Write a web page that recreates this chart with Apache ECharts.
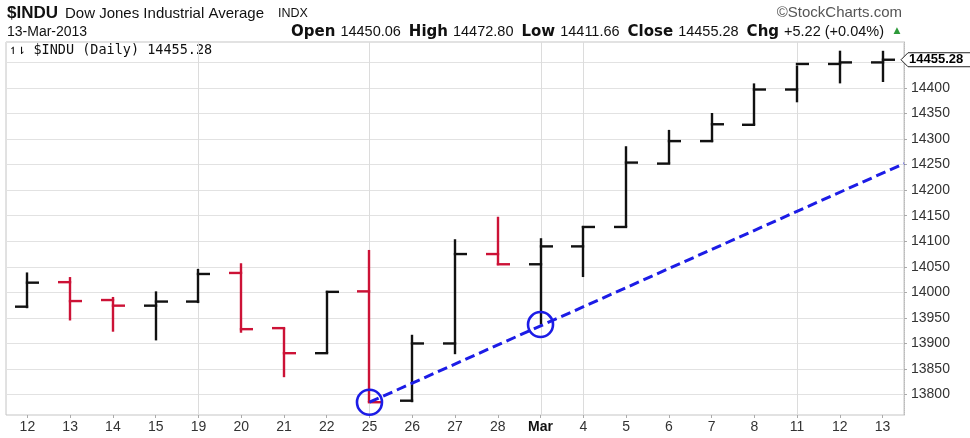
<!DOCTYPE html>
<html><head><meta charset="utf-8">
<script src="https://cdn.jsdelivr.net/npm/echarts@6/dist/echarts.min.js"></script>
<style>html,body{margin:0;padding:0;background:#fff}#c{width:970px;height:438px}</style>
</head><body><div id="c"></div>
<script>
// ---- data ----
const categories = ['12','13','14','15','19','20','21','22','25','26','27','28','Mar','4','5','6','7','8','11','12','13'];
const opens  = [13972,14020,13985,13974,13982,14038,13930,13881,14002,13788,13900,14075,14055,14090,14128,14252,14296,14328,14397,14447,14450.06];
const highs  = [14039,14030,13991,14002,14046,14057,13930,14003,14083,13917,14104,14148,14106,14130,14286,14318,14351,14409,14444,14473,14472.80];
const lows   = [13969,13945,13923,13906,13979,13921,13834,13881,13785,13785,13879,14053,13937,14030,14128,14252,14294,14328,14372,14409,14411.66];
const closes = [14019,13983,13974,13982,14036,13928,13881,14001,13785,13900,14075,14055,14090,14128,14254,14296,14329,14397,14447,14450.06,14455.28];
const priorClose = 13971;            // close before the first bar
const weekStartIdx = [4, 8, 12, 13, 18];   // 19, 25, Mar, 4, 11
const trendPoints = [[8, 13785], [20.5, 14252]];
const circledPoints = [[8, 13785], [12, 13937]];
const lastDate = '13-Mar-2013';

const n = categories.length;
const lastO = opens[n-1], lastH = highs[n-1], lastL = lows[n-1], lastC = closes[n-1];
const chg = lastC - closes[n-2];
const chgPct = chg / closes[n-2] * 100;

const ohlcData = categories.map((c, i) => {
  const prev = i === 0 ? priorClose : closes[i-1];
  return [i, opens[i], highs[i], lows[i], closes[i], closes[i] < prev ? 1 : 0];
});

const RED = '#cc1236', BLACK = '#111111', BLUE = '#1c1ce6';

function renderOHLC(params, api) {
  const i = api.value(0);
  const o = api.coord([i, api.value(1)]);
  const h = api.coord([i, api.value(2)]);
  const l = api.coord([i, api.value(3)]);
  const c = api.coord([i, api.value(4)]);
  const x = Math.round(o[0]);
  const color = api.value(5) ? RED : BLACK;
  const lw = 2.4, t = 12;
  const st = {stroke: color, lineWidth: lw};
  return {type: 'group', children: [
    {type: 'line', shape: {x1: x, y1: h[1], x2: x, y2: l[1]}, style: st},
    {type: 'line', shape: {x1: x - t, y1: o[1], x2: x + lw/2, y2: o[1]}, style: st},
    {type: 'line', shape: {x1: x - lw/2, y1: c[1], x2: x + t, y2: c[1]}, style: st}
  ]};
}

function renderWeekLine(params, api) {
  const p = api.coord([api.value(0), 14000]);
  const cs = params.coordSys;
  const x = Math.round(p[0]) + 0.5;
  return {type: 'line', shape: {x1: x, y1: cs.y, x2: x, y2: cs.y + cs.height},
          style: {stroke: '#dcdcdc', lineWidth: 1}};
}

function renderTag(params, api) {
  const p = api.coord([api.value(0), api.value(1)]);
  const cs = params.coordSys;
  const x = cs.x + cs.width - 3, y = p[1];
  return {type: 'group', children: [
    {type: 'polygon', shape: {points: [[x, y], [x+7, y-7], [x+72, y-7], [x+72, y+7], [x+7, y+7]]},
     style: {fill: '#fff', stroke: '#222', lineWidth: 1}},
    {type: 'text', x: x + 8, y: y, style: {text: api.value(1).toFixed(2), font: 'bold 13px "Liberation Sans"', fill: '#000', verticalAlign: 'middle', align: 'left'}}
  ]};
}

const chart = echarts.init(document.getElementById('c'), null, {renderer: 'canvas'});
const option = {
  animation: false,
  backgroundColor: '#fff',
  grid: {left: 6, right: 66, top: 42, bottom: 23, show: true, borderColor: '#c4c4c4', borderWidth: 1, backgroundColor: 'transparent'},
  xAxis: [{
    type: 'category', data: categories, boundaryGap: true,
    axisLine: {show: false},
    axisTick: {show: true, alignWithLabel: true, interval: 0, length: 3, lineStyle: {color: '#aaa'}},
    axisLabel: {interval: 0, margin: 5, fontFamily: 'Liberation Sans', fontSize: 14, color: '#333',
      formatter: v => v === 'Mar' ? '{b|Mar}' : v,
      rich: {b: {fontFamily: 'Liberation Sans', fontWeight: 'bold', fontSize: 14, color: '#111'}}},
    splitLine: {show: false}
  }, {
    type: 'value', min: -0.5, max: 20.5, show: false
  }],
  yAxis: {
    type: 'value', position: 'right', min: 13760, max: 14490, minInterval: 50, maxInterval: 50,
    axisLine: {show: true, onZero: false, lineStyle: {color: '#bbb', type: 'dotted'}},
    axisTick: {show: true, length: 3, lineStyle: {color: '#aaa'}},
    axisLabel: {margin: 7, fontFamily: 'Liberation Sans', fontSize: 14, color: '#333', showMinLabel: false, showMaxLabel: false,
      formatter: v => Math.abs(v - lastC) < 20 ? '' : String(v)},
    splitLine: {show: true, lineStyle: {color: '#e2e2e2', width: 1}}
  },
  series: [
    {
      type: 'custom', name: 'weeks', renderItem: renderWeekLine, data: weekStartIdx.map(i => [i]), xAxisIndex: 0, z: 1, silent: true,
      encode: {x: 0}
    },
    {
      type: 'custom', name: 'OHLC', renderItem: renderOHLC, data: ohlcData, xAxisIndex: 0, z: 3,
      encode: {x: 0, y: [1, 2, 3, 4]}
    },
    {
      type: 'line', xAxisIndex: 1, data: trendPoints, symbol: 'none', z: 4,
      lineStyle: {color: BLUE, width: 3, type: [10, 5]}
    },
    {
      type: 'scatter', xAxisIndex: 1, data: circledPoints, symbol: 'circle', symbolSize: 25, z: 5,
      itemStyle: {color: 'rgba(0,0,0,0)', borderColor: BLUE, borderWidth: 2.6, opacity: 1}
    },
    {
      type: 'custom', renderItem: renderTag, data: [[n-1, lastC]], xAxisIndex: 0, z: 6, clip: false
    }
  ],
  graphic: [
    {type: 'text', x: 7, y: 13, style: {text: '$INDU', font: 'bold 17px "Liberation Sans"', fill: '#111', verticalAlign: 'middle'}},
    {type: 'text', x: 65, y: 13.5, style: {text: 'Dow Jones Industrial Average', font: '15px "Liberation Sans"', fill: '#111', verticalAlign: 'middle'}},
    {type: 'text', x: 278, y: 14, style: {text: 'INDX', font: '12.5px "Liberation Sans"', fill: '#111', verticalAlign: 'middle'}},
    {type: 'text', x: 902, y: 13, style: {text: '\u00A9StockCharts.com', font: '15px "Liberation Sans"', fill: '#555', align: 'right', verticalAlign: 'middle'}},
    {type: 'text', x: 7, y: 32, style: {text: lastDate, font: '14px "Liberation Sans"', fill: '#111', verticalAlign: 'middle'}},
    {type: 'text', x: 884, y: 32, style: {
      text: '{b|Open}{v|' + lastO.toFixed(2) + '}{b|High}{v|' + lastH.toFixed(2) + '}{b|Low}{v|' + lastL.toFixed(2) +
            '}{b|Close}{v|' + lastC.toFixed(2) + '}{b|Chg}{v|' + (chg >= 0 ? '+' : '') + chg.toFixed(2) + ' (' + (chgPct >= 0 ? '+' : '') + chgPct.toFixed(2) + '%)}',
      align: 'right', verticalAlign: 'middle',
      rich: {b: {fontFamily: 'DejaVu Sans', fontWeight: 'bold', fontSize: 15, fill: '#111', padding: [0, 0, 0, 8]},
             v: {fontFamily: 'Liberation Sans', fontSize: 14.5, fill: '#111', padding: [0, 0, 0, 5]}}}},
    {type: 'text', x: 897, y: 31, style: {text: '\u25B2', font: '9px "DejaVu Sans"', fill: '#2e9a3a', align: 'center', verticalAlign: 'middle'}},
    {type: 'text', x: 9, y: 50, style: {text: '\u21BF\u21C2 $INDU (Daily) ' + lastC.toFixed(2), font: '13.5px "DejaVu Sans Mono"', fill: '#111', verticalAlign: 'middle'}}
  ]
};
chart.setOption(option);
</script>
</body></html>
